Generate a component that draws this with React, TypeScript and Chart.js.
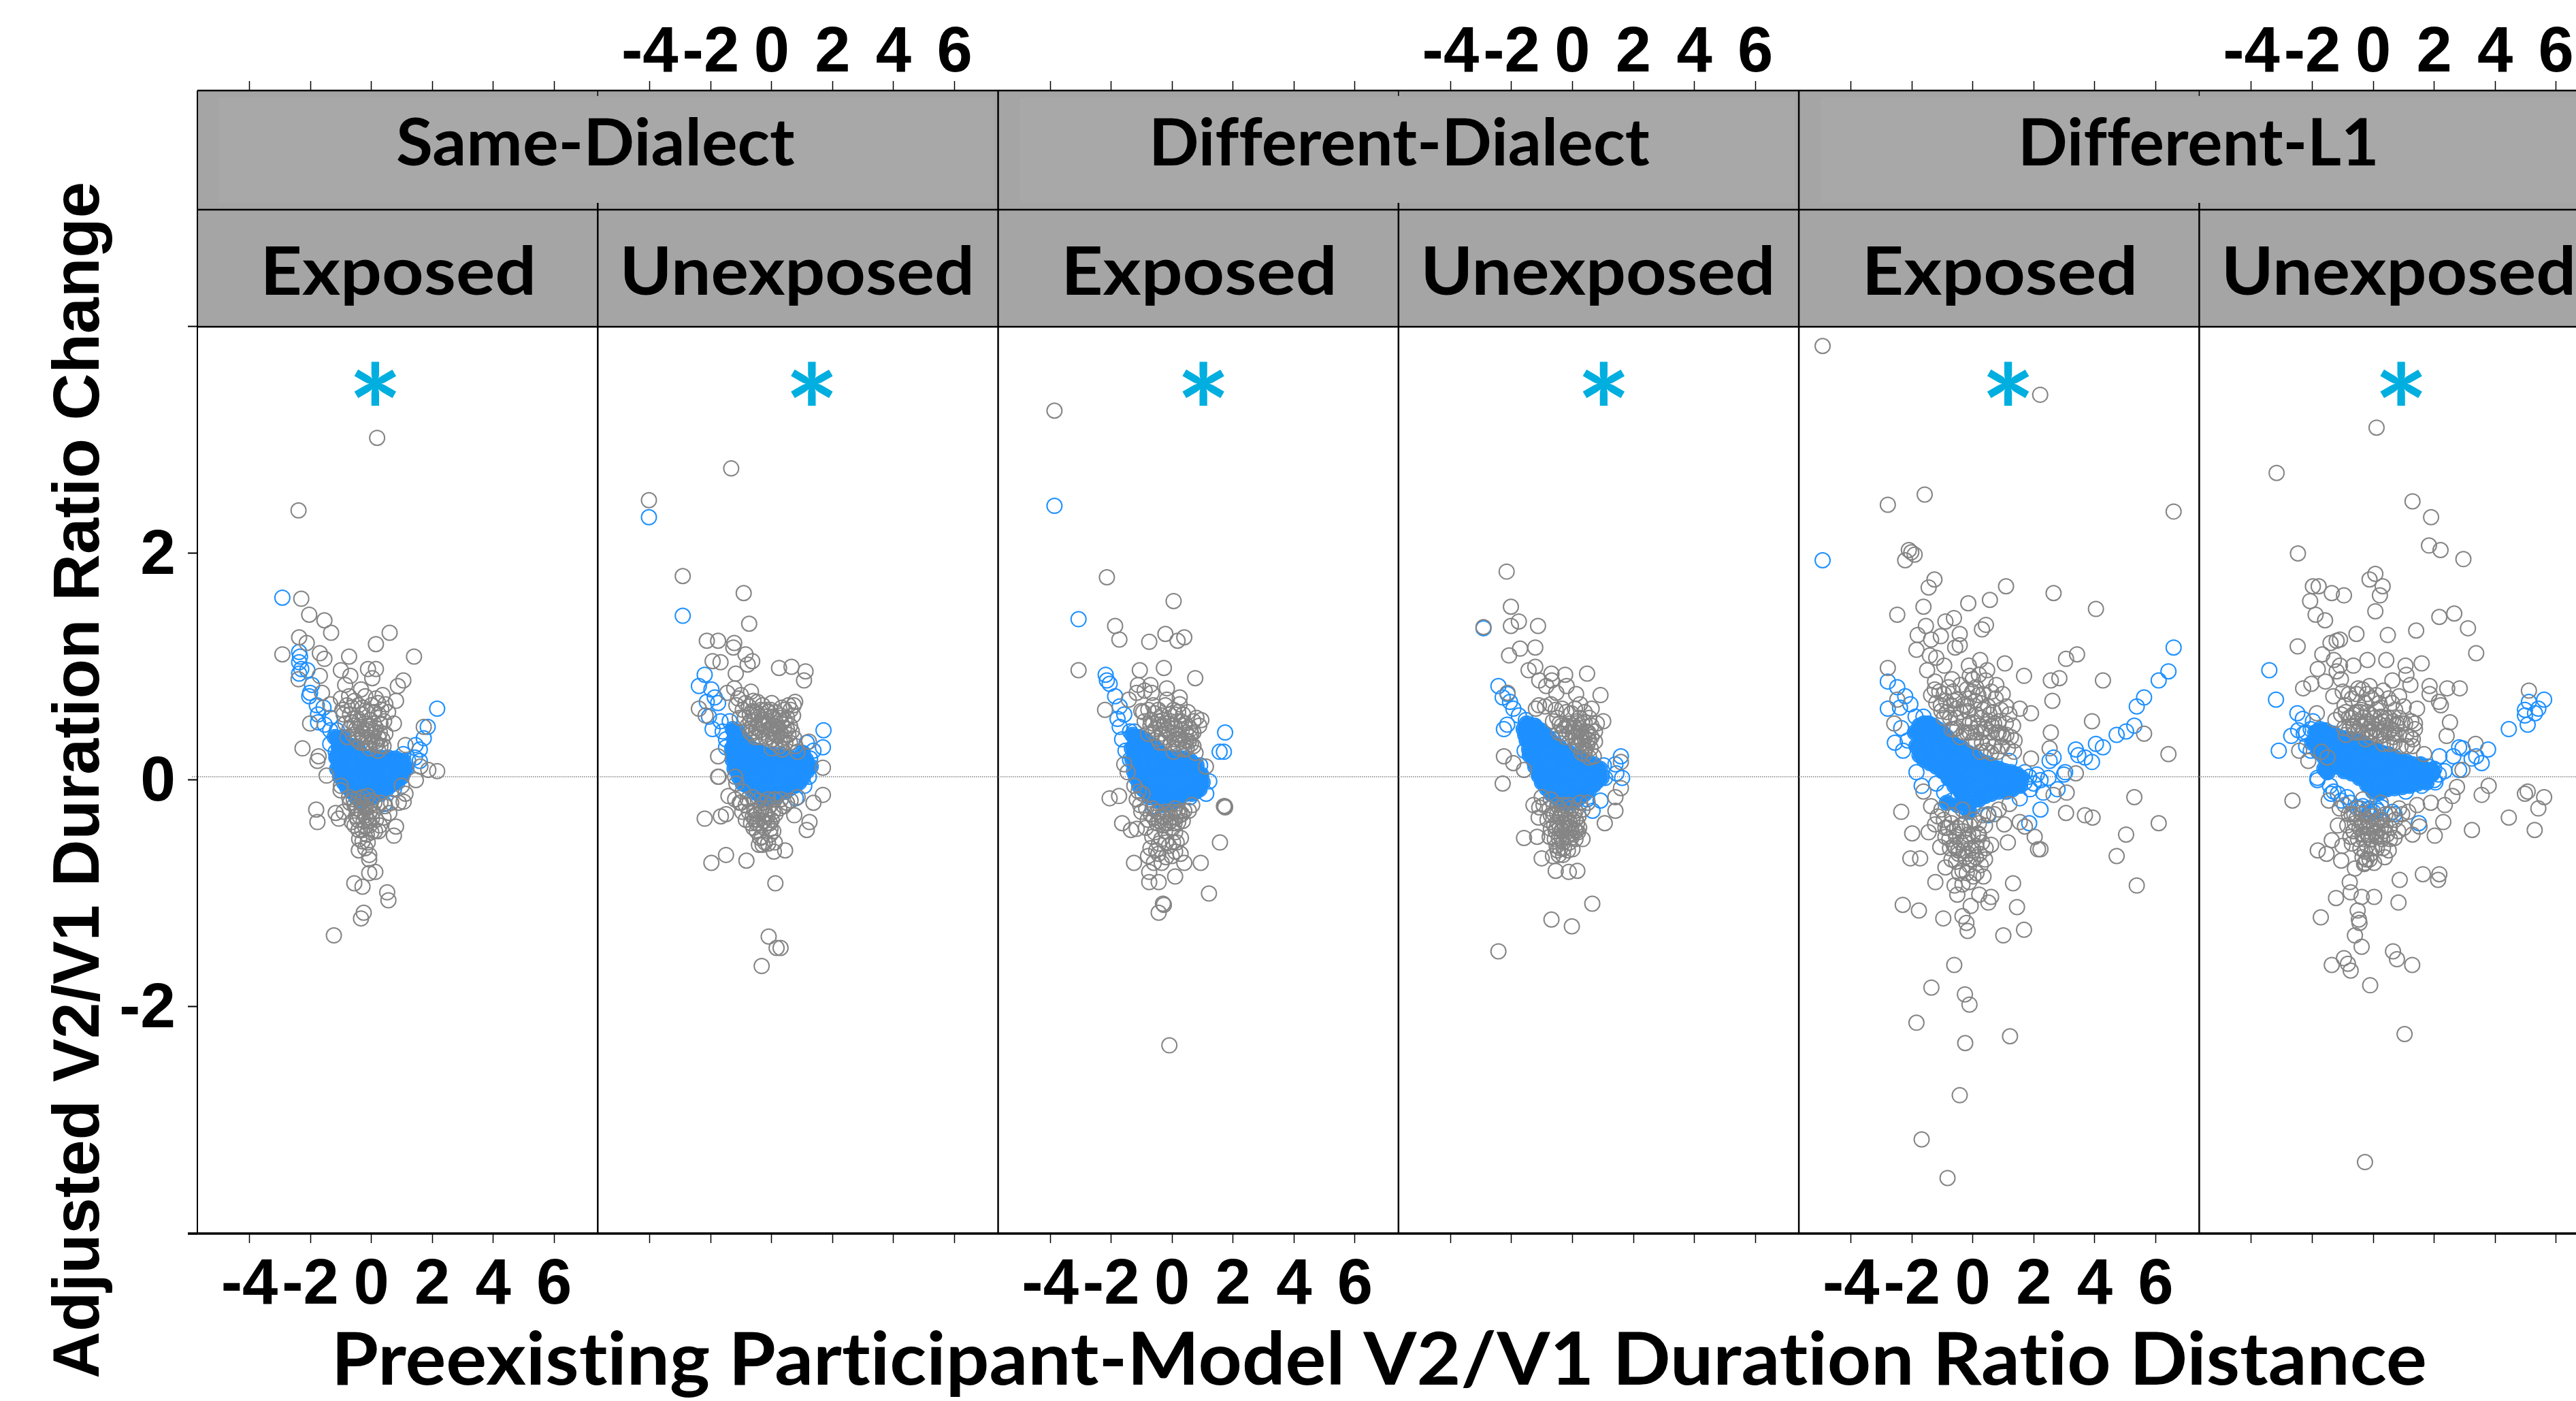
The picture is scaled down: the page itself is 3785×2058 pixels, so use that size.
import React, { useEffect, useRef } from "react";
import { Chart, registerables } from "chart.js";

Chart.register(...registerables);

type P = number[][];

const groupLabels = ["Same-Dialect", "Different-Dialect", "Different-L1"];
const panelLabels = ["Exposed", "Unexposed", "Exposed", "Unexposed", "Exposed", "Unexposed"];
const xTickValues = [-4, -2, 0, 2, 4, 6];
const yTickValues = [-4, -2, 0, 2, 4];
const yLabelled = [-2, 0, 2];
const starX = [0.13, 1.32, 1.03, 1.03, 1.16, 0.92];
const starY = 3.5;
const referenceY = 0.03;

const gray1: P = [[.19,3.02],[-2.39,2.38],[-2.3,1.6],[-2.04,1.46],[-1.54,1.41],[-1.32,1.3],[-2.37,1.26],[-2.12,1.21],[-2.92,1.11],[-1.69,1.12],[-1.54,1.07],[.6,1.3],[.15,1.2],[1.4,1.09],[-.73,1.09],[-1,.97],[-.11,.98],[.15,.98],[.03,.9],[-.69,.92],[1.05,.88],[.87,.83],[-.86,.84],[-.34,.8],[-2.39,.89],[-1.69,.92],[-1.62,.77],[.37,.75],[.81,.7],[.15,.72],[-.2,.74],[-1,.72],[-.73,.74],[-1.35,.67],[-.64,.64],[.46,.67],[-.91,.58],[-.47,.55],[.24,.58],[-.29,.64],[.74,.5],[-2.01,.5],[-.64,.51],[-.11,.48],[.15,.46],[-.29,.41],[.46,.41],[-.47,.37],[.24,.37],[-.2,.33],[.15,.31],[-2.26,.28],[-1.73,.21],[-1.77,.17],[1.72,.47],[1.12,.31],[1.87,.09],[2.16,.08],[1.61,.12],[1.46,0],[-1.47,.04],[-1,-.05],[-1.01,-.09],[-.73,-.15],[1.12,-.12],[1.06,-.19],[-1.81,-.26],[-1.77,-.37],[-1.17,-.29],[-1.07,-.34],[-.91,-.28],[-.64,-.37],[-.47,-.25],[-.2,-.31],[.06,-.28],[.28,-.4],[.59,-.29],[.81,-.41],[.74,-.49],[.24,-.45],[-.42,-.44],[-.2,-.41],[-.29,-.54],[-.41,-.62],[-.07,-.66],[-.07,-.7],[.13,-.81],[-.07,-.82],[-.56,-.91],[-.29,-.94],[.52,-.99],[.56,-1.06],[-.25,-1.17],[-.34,-1.22],[-1.23,-1.37]];
const grayDense1: P = [[-.95,.62],[-.8,.66],[-.7,.58],[-.55,.7],[-.42,.66],[-.3,.58],[-.15,.6],[0,.66],[.1,.6],[.22,.68],[.33,.62],[.55,.6],[-.85,.5],[-.72,.45],[-.55,.48],[-.4,.52],[-.22,.5],[-.05,.53],[.08,.5],[.3,.5],[.42,.52],[-.78,.38],[-.6,.4],[-.35,.33],[-.12,.38],[.03,.4],[.12,.34],[.3,.3],[.4,.3],[-.05,.28],[.22,.26],[-.7,-.2],[-.55,-.22],[-.35,-.2],[-.25,-.22],[-.05,-.22],[.1,-.2],[.3,-.2],[.45,-.23],[-.5,-.32],[-.38,-.32],[-.1,-.36],[.02,-.34],[.15,-.35],[.4,-.33],[-.55,-.4],[-.3,-.44],[-.15,-.48],[0,-.46],[.12,-.45],[-.4,-.52],[-.12,-.55],[-.2,-.6],[.65,-.2],[.9,-.2],[1,-.05]];
const grayCore1: P = [[-.5,.45],[-.44,.35],[-.33,.47],[-.27,.38],[-.18,.44],[-.1,.33],[-.03,.45],[.04,.35],[.1,.43],[.18,.32],[.28,.42],[.36,.36],[-.58,-.17],[-.5,-.25],[-.42,-.16],[-.33,-.27],[-.28,-.15],[-.2,-.25],[-.12,-.14],[-.06,-.28],[0,-.18],[-.45,-.35],[-.25,-.36],[-.16,-.33],[-.06,-.4]];
const blue1: P = [[-2.92,1.61],[-2.37,1.13],[-2.34,1.09],[-2.37,1.04],[-2.3,.98],[-2.1,.97],[-2.37,.94],[-1.95,.84],[-2.01,.77],[-2.04,.74],[-1.79,.66],[-1.57,.64],[-1.75,.58],[-1.35,.55],[-1.75,.51],[-1.53,.49],[-1.35,.44],[-1.13,.44],[-1.35,.32],[-1.17,.25],[-1.04,.14],[2.16,.63],[1.85,.47],[1.72,.37],[1.45,.31],[1.59,.27],[1.05,.23],[1.43,.2],[1.59,.17],[1.21,.17],[.43,-.21],[.74,-.08],[1.03,.06],[-.03,-.14]];
const blueRim1: P = [[-1.2,.38],[-1.08,.35],[-.95,.38],[-.85,.33],[-1.15,.2],[-1.12,.1],[-1.02,.03],[-.9,-.02],[-.8,-.06],[-.65,-.1],[-.5,-.15],[-.35,-.18],[-.2,-.17],[-.02,-.16],[.15,-.13],[.3,-.12],[.5,-.08],[.65,-.04],[.85,-.02],[1,.03],[-.6,.3],[-.45,.28],[-.3,.22],[-.1,.17],[.1,.2],[.3,.2],[.55,.2],[.8,.19],[1.05,.17],[1.15,.1],[-.6,.12],[-.2,.02],[.05,-.02],[.3,-.03],[.85,.05],[-.25,-.1],[.2,-.08]];
const core1: P = [[-1,.29],[-.73,.26],[-1.04,.2],[-.78,.15],[-.51,.21],[-.29,.15],[-.91,.09],[-.64,.05],[-.38,.03],[-.11,.09],[.15,.14],[.41,.15],[.68,.14],[.94,.14],[-.11,-.05],[-.38,-.06],[.15,.03],[.41,.03],[.68,.06]];

const gray2: P = [[-4.03,2.47],[-1.33,2.75],[-2.92,1.8],[-.92,1.65],[-.74,1.38],[-2.13,1.23],[-1.76,1.23],[-1.23,1.21],[-1.26,1.17],[-.86,1.11],[-1.94,1.05],[-1.68,1.04],[-.64,1.05],[-.79,1.02],[-1.18,.94],[.24,.99],[.65,1],[1.11,.96],[1.06,.88],[-1.23,.81],[-1.46,.77],[-1.01,.75],[-.68,.78],[-.47,.69],[-.86,.68],[-1.16,.66],[.77,.69],[.55,.66],[.33,.64],[-.04,.62],[.7,.57],[-2.39,.63],[-2.17,.57],[-.64,.61],[-.34,.53],[.1,.54],[-.79,.48],[.4,.46],[-.04,.46],[-.49,.46],[.66,.43],[.18,.41],[-.64,.41],[-.19,.37],[.33,.36],[.74,.37],[1.22,.34],[.1,.33],[-1.76,.21],[1.68,.11],[-1.76,.03],[-1.74,.03],[-1.2,.03],[-1.16,-.03],[-1.42,-.14],[-1.2,-.17],[-1.01,-.2],[-.79,-.17],[1.68,-.13],[1.37,-.2],[.85,-.15],[-2.2,-.34],[-1.67,-.32],[-1.5,-.3],[-.97,-.28],[.25,-.25],[.74,-.31],[1.24,-.37],[1.15,-.44],[-.34,-.25],[-.04,-.22],[-.57,-.27],[-.19,-.3],[-.68,-.38],[-.45,-.35],[-.27,-.36],[-.04,-.43],[-.49,-.45],[.1,-.55],[-.38,-.51],[-.12,-.56],[-.42,-.57],[.44,-.62],[.07,-.63],[-1.5,-.66],[-1.98,-.73],[-.83,-.71],[.12,-.91],[-.1,-1.38],[.16,-1.48],[.29,-1.48],[-.33,-1.64]];
const grayDense2: P = [[-1.1,.72],[-.95,.62],[-.75,.65],[-.6,.7],[-.5,.6],[-.3,.66],[-.18,.62],[0,.68],[.12,.6],[.25,.55],[.42,.62],[.5,.55],[.62,.62],[.72,.66],[-1.05,.55],[-.88,.55],[-.7,.52],[-.55,.53],[-.4,.5],[-.25,.48],[-.12,.52],[.05,.48],[.2,.47],[.32,.5],[.5,.45],[.6,.48],[-.7,.42],[-.55,.38],[-.42,.38],[-.3,.42],[-.1,.38],[.05,.36],[.25,.3],[.45,.33],[.6,.33],[.78,.3],[.85,.25],[0,.28],[.35,.27],[-.95,-.1],[-1.05,-.2],[-.85,-.22],[-.62,-.15],[-.45,-.18],[-.25,-.2],[-.12,-.17],[.1,-.17],[.3,-.17],[.5,-.2],[.62,-.18],[-.85,-.35],[-.55,-.35],[-.35,-.28],[-.12,-.25],[.12,-.3],[.4,-.23],[-.6,-.42],[-.25,-.42],[-.15,-.38],[0,-.35],[-.32,-.5],[-.22,-.55],[-.05,-.48],[.05,-.45],[-.3,-.57]];
const grayCore2: P = [[-.72,.58],[-.58,.6],[-.45,.58],[-.35,.62],[-.22,.56],[-.1,.6],[.03,.56],[.15,.5],[.3,.57],[.42,.53],[-.65,.46],[-.52,.43],[-.38,.44],[-.28,.5],[-.1,.45],[.02,.42],[.14,.4],[.28,.42],[.42,.38],[.55,.4],[-.75,-.28],[-.62,-.32],[-.5,-.3],[-.38,-.4],[-.25,-.3],[-.14,-.32],[-.06,-.38],[.04,-.28],[-.5,-.38]];
const blue2: P = [[-4.03,2.32],[-2.92,1.45],[-2.2,.93],[-2.39,.83],[-1.98,.8],[-1.87,.73],[-2.13,.69],[-1.76,.68],[-2.06,.56],[-1.94,.45],[-1.68,.52],[-1.38,.52],[-1.61,.43],[-1.5,.36],[-1.5,.29],[-1.23,.43],[1.7,.44],[1.15,.33],[1.68,.29],[1.37,.26],[.96,.24],[1.26,.19],[1.22,.03],[.79,-.16],[1.07,-.05],[-1.16,.13]];
const blueRim2: P = [[-1.28,.45],[-1.2,.38],[-1.1,.42],[-1.02,.38],[-.9,.33],[-.75,.3],[-.6,.27],[-.42,.26],[-.25,.23],[-.05,.22],[.15,.22],[.35,.22],[.55,.2],[.75,.18],[.95,.15],[1.05,.1],[1.15,.08],[1.02,.02],[.9,-.02],[.75,-.05],[.6,-.07],[.45,-.1],[.25,-.12],[.1,-.15],[-.1,-.17],[-.3,-.17],[-.45,-.12],[-.6,-.1],[-.8,-.05],[-.95,-.03],[-1.08,.03],[-1.22,.1],[-1.28,.18],[-1.3,.28],[-1.25,.3],[1.28,.12],[1.12,.18],[1.02,.24]];
const core2: P = [[-1.16,.36],[-.94,.28],[-1.2,.23],[-.71,.26],[-.94,.16],[-.49,.21],[-.71,.13],[-.94,.05],[-.27,.18],[-.49,.08],[-.71,0],[-.04,.16],[.18,.16],[.4,.16],[.63,.14],[.85,.13],[-.27,.05],[-.04,.05],[.25,.05],[.55,.05],[-.49,-.02],[-.19,-.08],[.03,-.05],[.33,-.02]];

const gray3: P = [[-3.86,3.26],[-.09,-2.34],[-2.14,1.79],[.05,1.58],[-1.87,1.36],[-1.73,1.24],[-.75,1.22],[-.22,1.29],[.18,1.23],[.4,1.26],[-3.07,.97],[-1.06,.97],[-.27,.99],[.76,.9],[-1.12,.84],[-.71,.84],[-.9,.79],[-1.16,.77],[-.67,.77],[-.17,.81],[-1.42,.71],[-.17,.71],[.25,.73],[.25,.67],[-2.2,.62],[-1.01,.61],[-.57,.59],[-.34,.57],[.1,.58],[.36,.58],[.96,.53],[.89,.48],[-.71,.48],[-.27,.48],[.55,.47],[.63,.41],[.1,.46],[-.79,.41],[-.34,.41],[.25,.36],[-.04,.33],[.77,.24],[.4,.27],[1.11,.12],[-1.57,.14],[-1.46,.07],[-1.24,-.05],[-1.74,-.14],[-2.05,-.16],[-1.16,-.17],[-.97,-.12],[1.73,-.23],[1.7,-.23],[1.74,-.24],[.66,-.22],[-1.01,-.28],[-.64,-.25],[-.04,-.33],[-.34,-.32],[.25,-.31],[.1,-.25],[-1.64,-.38],[-1.35,-.44],[-1.16,-.43],[-.86,-.42],[-.57,-.46],[-.23,-.45],[.1,-.46],[.29,-.51],[.03,-.55],[-.43,-.56],[-.71,-.6],[-.79,-.67],[.28,-.65],[-.01,-.67],[-.34,-.73],[-.6,-.73],[-1.25,-.73],[.4,-.73],[.94,-.73],[1.57,-.55],[-.75,-.81],[-.75,-.9],[-.44,-.9],[.1,-.85],[1.21,-1],[-.3,-1.09],[-.27,-1.1],[-.44,-1.17]];
const grayDense3: P = [[-.95,.6],[-.78,.62],[-.62,.66],[-.45,.62],[-.22,.66],[-.08,.58],[.05,.62],[.2,.6],[.42,.5],[.52,.6],[.7,.52],[.8,.55],[.6,.45],[-.9,.52],[-.62,.5],[-.45,.52],[-.15,.5],[0,.48],[.3,.52],[.45,.42],[.7,.42],[-.62,.42],[-.48,.37],[-.2,.38],[-.1,.42],[.1,.36],[.35,.34],[.55,.34],[.48,.28],[.7,.3],[.22,.28],[.05,.25],[-1.1,-.1],[-1.05,-.22],[-.85,-.25],[-.7,-.3],[-.45,-.28],[-.22,-.28],[.02,-.28],[.18,-.28],[.4,-.27],[.55,-.27],[-.8,-.35],[-.5,-.38],[-.3,-.4],[-.12,-.38],[.08,-.38],[.2,-.37],[.35,-.36],[-.65,-.5],[-.35,-.52],[-.2,-.55],[-.1,-.58],[.15,-.55],[-.52,-.62],[-.45,-.65],[-.2,-.68],[.1,-.63]];
const grayCore3: P = [[-.7,.53],[-.55,.45],[-.4,.47],[-.3,.53],[-.18,.44],[-.05,.52],[.07,.42],[.2,.52],[.32,.44],[.45,.35],[.58,.38],[.2,.4],[-.4,.33],[-.28,.33],[.15,.32],[.62,.32],[-.6,-.33],[-.42,-.36],[-.28,-.33],[-.15,-.3],[-.05,-.36],[.12,-.33],[.25,-.28],[.32,-.3],[-.5,-.28],[-.22,-.38],[.02,-.42]];
const blue3: P = [[-3.86,2.42],[-3.07,1.42],[-2.18,.93],[-2.14,.88],[-2.05,.85],[-1.87,.74],[-1.72,.65],[-1.57,.58],[-1.79,.54],[-1.72,.47],[-1.38,.43],[-1.64,.36],[-1.24,.43],[-1.53,.26],[-1.38,.18],[1.74,.42],[1.56,.25],[1.7,.25],[1.22,-.01],[1.12,-.12],[.92,.13],[.59,-.15],[-.6,-.23]];
const blueRim3: P = [[-1.3,.4],[-1.2,.36],[-1.1,.38],[-.98,.37],[-.85,.34],[-.7,.31],[-.55,.28],[-.4,.25],[-.2,.2],[0,.19],[.2,.2],[.42,.19],[.6,.17],[.8,.13],[.95,.05],[1,-.02],[.9,-.08],[.78,-.1],[.65,-.12],[.45,-.12],[.3,-.14],[.15,-.18],[-.05,-.2],[-.25,-.22],[-.45,-.18],[-.65,-.12],[-.8,-.1],[-.95,-.08],[-1.08,-.05],[-1.18,.02],[-1.25,.08],[-1.3,.18],[-1.32,.28],[-.75,-.15]];
const core3: P = [[-1.01,.31],[-.75,.28],[-1.16,.23],[-.86,.18],[-.57,.22],[-.31,.19],[-1.09,.13],[-.79,.08],[-.49,.12],[-.19,.09],[.03,.13],[.33,.13],[.63,.09],[.85,.03],[.1,.03],[.4,.02],[.63,-.02],[-.94,-.02],[-.64,-.02],[-.34,-.02],[-.04,-.05],[.25,-.07],[-.57,-.12],[-.27,-.17],[.03,-.15]];

const gray4: P = [[-2.16,1.84],[-2.02,1.53],[-2.02,1.36],[-1.76,1.4],[-1.13,1.36],[-2.92,1.35],[-2.08,1.1],[-1.72,1.16],[-1.22,1.17],[-1.44,.97],[-1.22,1],[-.69,.94],[-.24,.93],[.48,.94],[-1.09,.88],[-.86,.83],[-.68,.88],[-.19,.83],[-.53,.77],[.12,.76],[.92,.75],[-2.13,.77],[-.71,.67],[.25,.67],[.63,.63],[-1.2,.63],[-.34,.63],[-.04,.59],[1.01,.52],[-.64,.52],[-.19,.48],[.25,.46],[.74,.43],[.74,.34],[.4,.51],[.1,.38],[-.34,.41],[.55,.35],[.4,.23],[.7,.21],[-2.25,.21],[-1.94,.15],[-1.59,.09],[-2.29,-.03],[1.59,.16],[1.59,-.07],[1.41,-.15],[1.41,-.27],[1.06,-.38],[-1.01,-.15],[-1.28,-.22],[-1.09,-.24],[-1.11,-.33],[-.71,-.17],[-.71,-.31],[-.42,-.25],[-.04,-.25],[.33,-.26],[.1,-.35],[-.19,-.35],[-.49,-.37],[-.71,-.43],[-.34,-.45],[-.04,-.42],[.18,-.46],[.33,-.52],[-.04,-.51],[-.45,-.51],[-1.59,-.51],[-1.16,-.5],[-.75,-.5],[0,-.61],[-.49,-.62],[-.31,-.66],[-.64,-.67],[-1.01,-.69],[-.55,-.8],[-.12,-.81],[.16,-.8],[.65,-1.09],[-.69,-1.23],[-.02,-1.29],[-2.43,-1.51]];
const grayDense4: P = [[-1.1,.66],[-.9,.65],[-.55,.62],[-.5,.55],[-.2,.6],[.08,.63],[.22,.55],[.4,.6],[.55,.55],[.62,.48],[.8,.5],[-.42,.5],[-.1,.5],[.05,.48],[.15,.52],[.32,.5],[.45,.43],[.62,.38],[-.28,.45],[-.1,.42],[.02,.38],[.22,.38],[.32,.33],[.48,.3],[.2,.3],[.6,.28],[.3,.24],[.55,.2],[-.95,-.22],[-.75,-.25],[-.6,-.3],[-.5,-.22],[-.3,-.22],[-.12,-.22],[.1,-.27],[.25,-.2],[.5,-.2],[-.82,-.35],[-.6,-.4],[-.4,-.32],[-.28,-.38],[-.12,-.3],[0,-.35],[.2,-.32],[-.55,-.45],[-.42,-.42],[-.25,-.42],[-.12,-.45],[.08,-.44],[.22,-.42],[-.58,-.52],[-.35,-.52],[-.2,-.5],[-.1,-.55],[.1,-.52],[-.4,-.6],[-.52,-.58],[-.28,-.6],[-.15,-.62],[-.45,-.66]];
const grayCore4: P = [[-.45,.42],[-.35,.48],[-.22,.38],[-.12,.47],[0,.43],[.1,.46],[.2,.44],[.3,.42],[.4,.37],[.52,.42],[.12,.32],[.26,.36],[.42,.27],[.5,.36],[-.5,-.3],[-.35,-.28],[-.22,-.3],[-.08,-.38],[.05,-.3],[.15,-.38],[-.52,-.42],[-.35,-.44],[-.18,-.43],[-.02,-.47],[.12,-.45],[-.3,-.55]];
const blue4: P = [[-2.92,1.34],[-2.43,.83],[-2.13,.76],[-2.29,.73],[-2.05,.69],[-1.94,.63],[-1.76,.57],[-2.14,.49],[-2.25,.45],[-1.53,.53],[-1.24,.48],[-.64,.36],[-1.57,.26],[-1.09,.06],[1.59,.21],[1.41,.14],[1.03,.13],[1.44,.06],[1.63,.02],[1.07,.02],[.92,-.18],[.66,-.27],[.48,-.17],[-.04,-.17],[-1.31,.28]];
const blueRim4: P = [[-1.6,.45],[-1.5,.5],[-1.4,.46],[-1.3,.48],[-1.18,.46],[-1.05,.44],[-.9,.4],[-.75,.36],[-.6,.32],[-.45,.3],[-.3,.26],[-.1,.24],[.1,.2],[.3,.19],[.5,.15],[.7,.14],[.9,.1],[.95,.02],[.8,-.01],[.7,-.04],[.55,-.08],[.4,-.12],[.25,-.15],[.1,-.18],[-.1,-.2],[-.3,-.2],[-.5,-.16],[-.7,-.12],[-.85,-.07],[-1,-.02],[-1.1,.04],[-1.22,.12],[-1.3,.2],[-1.42,.27],[-1.5,.35],[-1.55,.4],[-1.4,.22],[-1.25,.16]];
const core4: P = [[-1.46,.43],[-1.24,.41],[-1.01,.39],[-1.31,.33],[-1.01,.31],[-.75,.29],[-1.09,.23],[-.79,.21],[-.49,.23],[-.79,.12],[-.49,.13],[-.19,.17],[.1,.14],[.4,.13],[.7,.09],[-.79,.03],[-.49,.02],[-.19,.05],[.1,.03],[.4,.02],[-.57,-.07],[-.27,-.1],[.03,-.08],[.33,-.05]];

const gray5: P = [[-4.93,3.83],[2.21,3.4],[-2.79,2.43],[-1.58,2.52],[6.59,2.37],[-2.1,2.03],[-2.02,2.01],[-1.91,1.99],[-2.22,1.94],[-1.26,1.77],[-1.45,1.7],[1.09,1.71],[2.65,1.65],[4.04,1.51],[-2.48,1.46],[-1.62,1.53],[-.15,1.56],[.56,1.59],[-1.54,1.36],[-.62,1.43],[-.9,1.4],[.43,1.37],[.3,1.33],[-.43,1.29],[-1.81,1.28],[-1.05,1.27],[-1.37,1.24],[-.43,1.19],[-.58,1.17],[-1.85,1.15],[-1.41,1.1],[-1.2,1.08],[3.42,1.11],[3.06,1.07],[-2.79,.99],[-1.5,.97],[-.94,1.01],[1.05,1.03],[.24,1.06],[-.13,1.01],[.47,.97],[1.68,.92],[2.84,.9],[2.56,.88],[4.27,.88],[-1.24,.87],[-.68,.89],[0,.89],[.77,.84],[2.61,.7],[.98,.76],[-1.37,.75],[-.51,.71],[.34,.76],[-1.03,.61],[-.17,.61],[1.2,.58],[1.54,.63],[1.91,.59],[3.91,.52],[2.56,.42],[5.62,.41],[-2.48,.71],[-2.58,.5],[.43,.46],[.94,.41],[1.37,.35],[-.51,.46],[0,.51],[1.32,.48],[2.52,.28],[1.91,.19],[6.42,.23],[3.38,.06],[2.65,-.13],[3.08,-.11],[5.3,-.15],[3.06,-.29],[3.68,-.31],[3.93,-.33],[6.1,-.38],[-2.35,-.28],[-1.62,-.1],[-1.37,-.23],[-1.99,-.47],[-1.45,-.46],[-1.24,-.39],[-.77,-.52],[-.51,-.42],[-.17,-.52],[.17,-.47],[.6,-.57],[1.03,-.39],[1.15,-.55],[1.54,-.37],[1.71,-.41],[2.03,-.5],[2.14,-.61],[2.22,-.61],[5.03,-.48],[4.72,-.67],[5.38,-.93],[-2.05,-.69],[-1.73,-.69],[-1.07,-.59],[-.9,-.77],[-.47,-.65],[-.34,-.8],[0,-.7],[.26,-.75],[-1.23,-.9],[-.6,-.93],[-.34,-.92],[1.32,-.91],[-.51,-1.01],[.21,-1.01],[.6,-1.03],[.51,-1.08],[-.07,-1.11],[-2.3,-1.1],[-1.77,-1.15],[1.45,-1.12],[-.97,-1.22],[-.34,-1.2],[-.21,-1.26],[-.17,-1.33],[1.68,-1.32],[1,-1.37],[-.61,-1.63],[-1.36,-1.83],[-.26,-1.89],[-.11,-1.98],[-1.85,-2.14],[-.25,-2.32],[1.22,-2.26],[-.43,-2.78],[-1.68,-3.17],[-.83,-3.51],[-.68,-.31],[-1.03,-.26],[-.34,-.26],[.34,-.31],[.85,-.26],[1.2,-.21]];
const grayDense5: P = [[-1.25,.8],[-1.1,.78],[-.95,.76],[-.8,.82],[-.65,.78],[-.4,.84],[-.2,.8],[-.1,.92],[.1,.82],[.2,.93],[.42,.88],[.6,.78],[.75,.72],[-1.2,.68],[-1.05,.66],[-.88,.7],[-.72,.66],[-.55,.63],[-.3,.66],[-.12,.72],[.08,.7],[.25,.68],[.5,.65],[.68,.6],[.92,.62],[1.1,.65],[-.95,.55],[-.75,.55],[-.55,.55],[-.3,.52],[-.1,.5],[.12,.58],[.3,.55],[.5,.52],[.7,.5],[.85,.52],[1.08,.5],[-.7,.45],[-.3,.42],[-.1,.42],[.1,.42],[.27,.42],[.6,.42],[.78,.42],[1.1,.4],[1.25,.38],[.1,.34],[.3,.33],[.5,.33],[.7,.3],[.95,.3],[1.15,.28],[1.35,.25],[.6,.24],[-1.15,-.32],[-.95,-.35],[-.82,-.42],[-.7,-.38],[-.55,-.5],[-.4,-.4],[-.25,-.38],[-.1,-.4],[.05,-.35],[.2,-.38],[.4,-.4],[.5,-.3],[.7,-.3],[-.9,-.5],[-.75,-.6],[-.62,-.58],[-.4,-.55],[-.25,-.55],[-.05,-.6],[.1,-.58],[.3,-.55],[.42,-.6],[-.7,-.7],[-.55,-.72],[-.25,-.68],[-.12,-.75],[.1,-.68],[.4,-.7],[-.45,-.82],[-.2,-.82],[.12,-.82],[.35,-.85],[-.12,-.9],[.02,-.85]];
const grayCore5: P = [[-.85,.6],[-.62,.7],[-.4,.6],[-.2,.65],[-.02,.78],[.18,.75],[.35,.62],[.55,.58],[-.6,.45],[-.42,.38],[-.2,.42],[0,.35],[.2,.48],[.4,.45],[.62,.48],[.85,.42],[1,.38],[.25,.25],[.45,.26],[.82,.25],[-.9,-.42],[-.62,-.45],[-.48,-.62],[-.32,-.45],[-.15,-.48],[0,-.48],[.2,-.48],[-.3,-.62],[-.15,-.65],[.02,-.62],[-.55,-.6],[.22,-.65]];
const blue5: P = [[-4.93,1.94],[6.59,1.17],[6.42,.96],[6.1,.88],[5.62,.73],[5.38,.65],[5.3,.48],[5.03,.43],[4.72,.4],[4.27,.29],[4.04,.32],[3.91,.16],[3.68,.2],[3.38,.27],[3.46,.22],[3.03,.07],[2.99,.05],[2.65,.2],[2.52,.17],[2.78,-.08],[2.48,.02],[2.22,0],[2.31,-.11],[1.88,-.08],[2.22,-.26],[1.85,-.38],[1.71,.07],[1.2,.17],[-2.79,.87],[-2.48,.82],[-2.79,.63],[-2.22,.74],[-2.05,.67],[-2.39,.64],[-2.35,.46],[-2.56,.33],[-2.29,.26],[-2.14,.35],[-1.88,.56],[-1.62,.56],[-1.85,.07],[-1.68,-.05],[-1.2,-.03],[-.94,-.11],[-.68,-.18],[-.26,-.24],[0,-.24],[.51,-.31],[1.54,-.16],[1.7,-.02],[1.85,.03],[2,-.03],[2.1,.05]];
const blueRim5: P = [[-1.9,.42],[-1.75,.48],[-1.6,.5],[-1.45,.5],[-1.3,.48],[-1.15,.45],[-1,.42],[-.85,.38],[-.7,.33],[-.55,.3],[-.35,.28],[-.15,.24],[.05,.22],[.25,.17],[.45,.15],[.65,.12],[.85,.1],[1.05,.08],[1.25,.07],[1.45,.05],[1.6,.02],[1.55,-.05],[1.3,-.08],[1.1,-.1],[.85,-.1],[.6,-.12],[.4,-.14],[.2,-.17],[0,-.18],[-.2,-.18],[-.4,-.1],[-.6,-.05],[-.8,.02],[-1,.08],[-1.2,.12],[-1.4,.15],[-1.6,.18],[-1.75,.22],[-1.85,.3],[-.85,-.2],[-.5,-.22],[-.12,-.28]];
const core5: P = [[-1.54,.41],[-1.28,.35],[-1.62,.28],[-1.32,.23],[-1.03,.3],[-.77,.25],[-1.03,.17],[-.68,.15],[-.43,.17],[-.26,.1],[0,.15],[-.51,.05],[-.17,0],[.17,.07],[.43,.05],[.26,-.06],[.68,0],[1.03,0],[1.37,0],[-.68,.02],[-.34,-.08]];

const gray6: P = [[-3.17,2.71],[.11,3.11],[1.29,2.46],[1.9,2.32],[1.83,2.07],[2.21,2.03],[2.96,1.95],[-2.47,2],[.07,1.82],[-.12,1.77],[.31,1.71],[.22,1.63],[.07,1.49],[-1.98,1.71],[-1.79,1.71],[-1.36,1.65],[-.96,1.63],[-2.07,1.58],[-1.89,1.46],[-1.58,1.41],[2.17,1.44],[2.66,1.47],[3.11,1.34],[1.41,1.32],[.48,1.28],[-.55,1.29],[-1.09,1.24],[-1.4,1.21],[-1.2,1.23],[-2.48,1.18],[3.38,1.12],[-1.67,1.11],[-1.29,1.06],[-.19,1.06],[.43,1.06],[1.59,1.03],[1.06,1.01],[-.65,1.01],[-1.09,1.01],[-1.82,.98],[-1.2,.96],[1.09,.93],[-1.06,.89],[-1.57,.87],[-2.03,.85],[-2.3,.81],[1.85,.83],[2.43,.81],[2.84,.81],[.63,.88],[1.22,.84],[-1.31,.74],[-.12,.83],[-.49,.81],[.33,.79],[.85,.74],[1.85,.76],[2.16,.69],[2.22,.66],[-.94,.66],[-.27,.68],[.25,.64],[1,.65],[1.44,.63],[-.9,.6],[-.42,.6],[-1.85,.59],[2.52,.51],[1.37,.5],[.96,.5],[-1.24,.53],[-.64,.48],[-.19,.52],[.4,.48],[1.37,.45],[2.41,.39],[-.04,.43],[-.49,.43],[.7,.41],[1.22,.38],[.25,.39],[5.11,.79],[3.36,.32],[1.29,.3],[-2.43,.26],[-2.13,.17],[1.67,.23],[2.93,.09],[-2.65,-.18],[-1.46,-.18],[3.79,-.05],[3.56,-.13],[5.07,-.1],[4.98,-.12],[5.61,-.15],[5.42,-.25],[4.45,-.33],[5.3,-.44],[3.24,-.44],[2.75,-.06],[2.6,-.14],[2.35,-.22],[1.89,-.2],[1.44,-.22],[2.3,-.37],[2.02,-.49],[1.52,-.41],[1.29,-.48],[-1.16,-.4],[-.71,-.3],[-.94,-.22],[-.34,-.17],[.25,-.2],[.85,-.25],[1,-.42],[.7,-.51],[.25,-.42],[-.34,-.4],[-.04,-.32],[-.64,-.45],[-.19,-.48],[.4,-.3],[-1.36,-.53],[-1.01,-.58],[-1.82,-.62],[-1.53,-.65],[-1.05,-.71],[-.27,-.63],[-.04,-.6],[.51,-.62],[-.6,-.78],[.03,-.73],[-.27,-.73],[-.12,-.7],[1.63,-.83],[2.17,-.83],[2.13,-.88],[.87,-.88],[-.77,-.9],[-1.22,-1.04],[-.74,-.99],[-.38,-1.03],[.03,-1.03],[.83,-1.08],[-.51,-1.15],[-1.72,-1.21],[-.47,-1.23],[-.45,-1.26],[-.6,-1.37],[-.38,-1.47],[.65,-1.51],[.78,-1.58],[-.96,-1.57],[-.83,-1.62],[-1.36,-1.63],[-.74,-1.68],[1.28,-1.63],[-.1,-1.81],[-.27,-3.37],[1.03,-2.24]];
const grayDense6: P = [[-1,.78],[-.8,.76],[-.7,.72],[-.55,.76],[-.35,.8],[-.2,.76],[-.05,.72],[.1,.75],[.2,.68],[.5,.72],[.62,.68],[.72,.62],[-1.05,.58],[-.8,.55],[-.65,.58],[-.5,.52],[-.33,.55],[-.1,.58],[.05,.55],[.18,.5],[.3,.52],[.52,.55],[.65,.52],[.85,.55],[.75,.48],[1.05,.5],[1.25,.52],[-.95,.46],[-.78,.45],[-.6,.42],[-.35,.42],[-.18,.45],[-.08,.38],[.1,.4],[.35,.4],[.5,.42],[.85,.4],[1.08,.4],[1.3,.36],[-.25,.36],[.55,.32],[.7,.33],[.9,.3],[1.1,.3],[.32,.32],[-.9,.4],[-1.7,.25],[-1.5,.2],[-1.1,-.25],[-.8,-.3],[-.62,-.3],[-.5,-.25],[-.35,-.3],[-.18,-.35],[.1,-.37],[.3,-.35],[.55,-.3],[.72,-.35],[.95,-.3],[1.15,-.28],[-.85,-.4],[-.6,-.38],[-.45,-.42],[-.22,-.42],[-.08,-.42],[.15,-.45],[.4,-.4],[.55,-.42],[.82,-.45],[-.75,-.5],[-.5,-.52],[-.32,-.52],[-.08,-.52],[.1,-.5],[.3,-.52],[.55,-.52],[-.7,-.56],[-.42,-.6],[-.2,-.58],[.12,-.6],[.32,-.6],[-.35,-.68],[-.22,-.7],[-.08,-.65],[.38,-.68],[-.3,-.74]];
const grayCore6: P = [[-.72,.55],[-.55,.6],[-.4,.62],[-.2,.6],[-.05,.5],[.12,.62],[.25,.56],[.42,.55],[.6,.45],[.78,.5],[-.65,.47],[-.42,.48],[-.25,.5],[-.12,.42],[.05,.45],[.22,.42],[.42,.46],[.65,.38],[-.55,-.34],[-.4,-.36],[-.26,-.37],[-.12,-.36],[.02,-.4],[.2,-.35],[.35,-.45],[-.65,-.45],[-.35,-.48],[-.15,-.48],[.05,-.46],[.22,-.5],[.45,-.48]];
const blue6: P = [[-3.41,.97],[-3.19,.71],[-2.49,.59],[-2.31,.54],[-1.98,.52],[-2.69,.39],[-2.46,.44],[-3.1,.26],[-2.28,.41],[-1.57,.44],[-2.05,.26],[-1.83,.02],[-1.83,0],[-1.42,-.05],[-1.38,-.12],[-1.16,-.12],[-.86,-.15],[-.34,-.23],[-.12,-.25],[.1,-.25],[.63,-.28],[.7,-.3],[1.5,-.38],[4.45,.45],[5.11,.69],[5.61,.71],[4.98,.62],[5.42,.63],[5.31,.59],[4.98,.57],[5.07,.49],[3.77,.27],[3.56,.15],[3.38,.21],[3.23,.19],[2.82,.29],[2.93,.28],[2.17,.21],[2.63,.21],[2.82,.09],[2.34,.08],[2.04,-.02],[1.59,-.05],[1.07,-.1],[2.15,.05],[2,.1],[2,0],[1.8,.12],[-1.3,-.1],[-1.05,-.18],[-.75,-.2],[-.55,-.24],[-.2,-.26],[.28,-.24],[-.42,-.25],[0,-.28],[-.1,-.3],[.15,-.27],[-2.2,.42],[-2.2,.3],[-2.05,.45]];
const blueRim6: P = [[-1.9,.42],[-1.75,.45],[-1.6,.43],[-1.45,.42],[-1.3,.41],[-1.1,.38],[-.9,.37],[-.7,.36],[-.5,.34],[-.3,.32],[-.1,.28],[.1,.26],[.3,.24],[.5,.22],[.7,.2],[.9,.17],[1.1,.16],[1.3,.14],[1.55,.14],[1.75,-.02],[1.45,-.03],[1.2,-.05],[.95,-.06],[.7,-.07],[.45,-.08],[.2,-.11],[0,-.1],[-.2,-.04],[-.45,.02],[-.7,.06],[-.95,.08],[-1.2,.12],[-1.4,.15],[-1.6,.2],[-1.8,.25],[-2,.33],[-1.5,.07],[-1.6,.1]];
const core6: P = [[-1.61,.33],[-1.31,.33],[-1.01,.31],[-.71,.31],[-.42,.29],[-.12,.26],[.18,.23],[.48,.21],[-1.38,.23],[-1.09,.21],[-.79,.21],[-.49,.18],[-.19,.16],[.1,.13],[.4,.11],[.7,.13],[1,.12],[1.29,.09],[1.59,.09],[1.89,.07],[-.94,.13],[-.57,.09],[-.19,.05],[.18,-.01],[.55,.03],[.92,.03],[-.04,-.05],[.33,-.02]];

const grayPanels = [
  [...gray1, ...grayDense1, ...grayCore1],
  [...gray2, ...grayDense2, ...grayCore2],
  [...gray3, ...grayDense3, ...grayCore3],
  [...gray4, ...grayDense4, ...grayCore4],
  [...gray5, ...grayDense5, ...grayCore5],
  [...gray6, ...grayDense6, ...grayCore6],
];
const bluePanels = [blue1, blue2, blue3, blue4, blue5, blue6];
const rimPanels = [blueRim1, blueRim2, blueRim3, blueRim4, blueRim5, blueRim6];
const corePanels = [core1, core2, core3, core4, core5, core6];

const xMin = -5.71;
const xMax = 7.43;
const yMin = -4;
const yMax = 6.084;
const GRAY = "#858585";
const BLUE = "#1E90FF";
const STAR = "#00AEDF";
const CALIBRI = "Lato";
const ARIAL = "'Liberation Sans'";

const toPoints = (p: P) => p.map(([x, y]) => ({ x, y }));

function fitText(ctx: any, text: string, left: number, baseline: number, width: number, font: string) {
  ctx.save();
  ctx.font = font;
  ctx.textRendering = "optimizeSpeed";
  ctx.textAlign = "left";
  ctx.textBaseline = "alphabetic";
  ctx.fillStyle = "#000";
  const m = ctx.measureText(text);
  const w = m.actualBoundingBoxLeft + m.actualBoundingBoxRight;
  const s = width / w;
  ctx.translate(left + m.actualBoundingBoxLeft * s, baseline);
  ctx.scale(s, 1);
  ctx.fillText(text, 0, 0);
  ctx.restore();
}

const framePlugin = {
  id: "frame",
  beforeDatasetsDraw(chart: any) {
    const { ctx, chartArea: a } = chart;
    const yTop = a.top;
    const y1 = chart.scales.y.getPixelForValue(4);
    const w = (a.right - a.left) / 6;
    const ySplit = 308;
    ctx.save();
    ctx.fillStyle = "#A5A5A5";
    ctx.fillRect(a.left, yTop, a.right - a.left, y1 - yTop);
    ctx.fillStyle = "#A8A8A8";
    for (let g = 0; g < 3; g++) ctx.fillRect(a.left + g * 2 * w + 32, yTop + 10, 2 * w - 38, ySplit - yTop - 20);
    ctx.strokeStyle = "#000";
    const line = (x1: number, y1b: number, x2: number, y2: number, lw: number) => {
      ctx.lineWidth = lw;
      ctx.beginPath();
      ctx.moveTo(x1, y1b);
      ctx.lineTo(x2, y2);
      ctx.stroke();
    };
    line(a.left, yTop, a.right, yTop, 2.5);
    line(a.left, ySplit, a.right, ySplit, 2.5);
    line(a.left, y1, a.right, y1, 2.5);
    line(a.left - 14, a.bottom, a.right, a.bottom, 3.5);
    line(a.left, yTop, a.left, a.bottom, 2);
    for (let i = 1; i < 6; i++) {
      const x = a.left + i * w;
      if (i % 2 === 0) {
        line(x, yTop, x, a.bottom, 2.5);
      } else {
        line(x, yTop, x, yTop + 8, 1.5);
        line(x, ySplit - 10, x, a.bottom, 2.5);
      }
    }
    ctx.strokeStyle = "#808080";
    ctx.setLineDash([1.5, 1.5]);
    const yr = chart.scales.y.getPixelForValue(referenceY);
    line(a.left - 8, yr, a.right, yr, 1.5);
    ctx.restore();
  },
  afterDraw(chart: any) {
    const { ctx, chartArea: a } = chart;
    const w = (a.right - a.left) / 6;
    const boldC = (s: number) => `bold ${s}px ${CALIBRI}`;
    const gLeft = [584, 1695, 2972];
    const gWidth = [584, 729, 518];
    groupLabels.forEach((t, i) => fitText(ctx, t, gLeft[i], 243, gWidth[i], boldC(96)));
    panelLabels.forEach((t, i) => {
      const even = i % 2 === 0;
      const g = Math.floor(i / 2);
      fitText(ctx, t, (even ? 390 : 918) + g * 2 * w, 433, even ? 392 : 508, boldC(98));
    });
    fitText(ctx, "Preexisting Participant-Model V2/V1 Duration Ratio Distance", 495, 2034, 3068, boldC(108));
    ctx.save();
    ctx.translate(145, 2023);
    ctx.rotate(-Math.PI / 2);
    fitText(ctx, "Adjusted V2/V1 Duration Ratio Change", 0, 0, 1753, `bold 97px ${ARIAL}`);
    ctx.restore();
    starX.forEach((sx, i) => {
      const px = chart.scales[`x${i}`].getPixelForValue(sx);
      const py = chart.scales.y.getPixelForValue(starY);
      ctx.save();
      ctx.font = boldC(190);
      ctx.fillStyle = STAR;
      ctx.textAlign = "left";
      ctx.textBaseline = "alphabetic";
      const m = ctx.measureText("*");
      const cx = (m.actualBoundingBoxRight - m.actualBoundingBoxLeft) / 2;
      const cy = (m.actualBoundingBoxDescent - m.actualBoundingBoxAscent) / 2;
      ctx.fillText("*", px - cx, py - cy);
      ctx.restore();
    });
  },
};

function buildScales() {
  const scales: any = {
    y: {
      type: "linear",
      position: "left",
      min: yMin,
      max: yMax,
      afterFit: (s: any) => { s.width = 290; },
      afterBuildTicks: (s: any) => { s.ticks = yTickValues.map((value) => ({ value })); },
      grid: { display: true, drawOnChartArea: false, drawTicks: true, tickLength: 14, tickColor: "#000", tickWidth: 2 },
      border: { display: false },
      ticks: {
        autoSkip: false,
        padding: 18,
        labelOffset: 4,
        color: "#000",
        font: { family: ARIAL, weight: "bold", size: 93 },
        callback: (v: number) => (yLabelled.includes(v) ? String(v) : ""),
      },
    },
  };
  for (let i = 0; i < 6; i++) {
    const common = {
      type: "linear",
      min: xMin,
      max: xMax,
      stackWeight: 1,
      afterBuildTicks: (s: any) => { s.ticks = xTickValues.map((value) => ({ value })); },
      grid: { display: true, drawOnChartArea: false, drawTicks: true, tickLength: 14, tickColor: "#000", tickWidth: 1.5 },
      border: { display: false },
    };
    const tickFont = { family: ARIAL, weight: "bold", size: 94, lineHeight: 1 };
    scales[`x${i}`] = {
      ...common,
      position: "bottom",
      stack: "bottomRow",
      afterFit: (s: any) => { s.height = 246; },
      ticks: {
        autoSkip: false, maxRotation: 0, minRotation: 0, padding: 16, color: "#000", font: tickFont,
        callback: (v: number) => (i % 2 === 0 ? String(v) : ""),
      },
    };
    // Chart.js places a stacked top row in reverse order, so t0 is the rightmost panel.
    scales[`t${i}`] = {
      ...common,
      position: "top",
      stack: "topRow",
      afterFit: (s: any) => { s.height = 133; },
      ticks: {
        autoSkip: false, maxRotation: 0, minRotation: 0, padding: -7, color: "#000", font: tickFont,
        callback: (v: number) => (i % 2 === 0 ? String(v) : ""),
      },
    };
  }
  return scales;
}

function buildDatasets() {
  const sets: any[] = [];
  const base = { pointRadius: 11, pointBorderWidth: 2, showLine: false, pointHoverRadius: 11, clip: false, yAxisID: "y" };
  const ring = { pointBackgroundColor: "rgba(0,0,0,0)" };
  for (let i = 0; i < 6; i++) {
    sets.push({ ...base, ...ring, label: `gray${i}`, xAxisID: `x${i}`, data: toPoints(grayPanels[i]), pointBorderColor: GRAY });
    sets.push({ ...base, label: `top${i}`, xAxisID: `t${i}`, data: [], pointRadius: 0 });
  }
  for (let i = 0; i < 6; i++) {
    sets.push({ ...base, ...ring, label: `blue${i}`, xAxisID: `x${i}`, data: toPoints(bluePanels[i]), pointBorderColor: BLUE });
    sets.push({ ...base, ...ring, label: `rim${i}`, xAxisID: `x${i}`, data: toPoints(rimPanels[i]), pointBorderColor: BLUE });
    sets.push({ ...base, label: `rimFill${i}`, xAxisID: `x${i}`, data: toPoints(rimPanels[i]), pointRadius: 9, pointBorderColor: BLUE, pointBackgroundColor: BLUE });
    sets.push({ ...base, label: `core${i}`, xAxisID: `x${i}`, data: toPoints(corePanels[i]), pointRadius: 14, pointBorderColor: BLUE, pointBackgroundColor: BLUE });
  }
  return sets;
}

export default function App() {
  const ref = useRef<HTMLCanvasElement>(null);
  useEffect(() => {
    document.body.style.margin = "0";
    document.body.style.overflow = "hidden";
    const chart = new Chart(ref.current!, {
      type: "scatter",
      data: { datasets: buildDatasets() },
      options: {
        animation: false,
        responsive: false,
        events: [],
        layout: { autoPadding: false, padding: 0 },
        plugins: { legend: { display: false }, title: { display: false }, tooltip: { enabled: false } },
        scales: buildScales(),
      },
      plugins: [framePlugin],
    } as any);
    return () => chart.destroy();
  }, []);
  return (
    <div style={{ width: 3785, height: 2058, overflow: "hidden", background: "#fff" }}>
      <canvas ref={ref} width={3828} height={2058} style={{ display: "block" }} />
    </div>
  );
}
